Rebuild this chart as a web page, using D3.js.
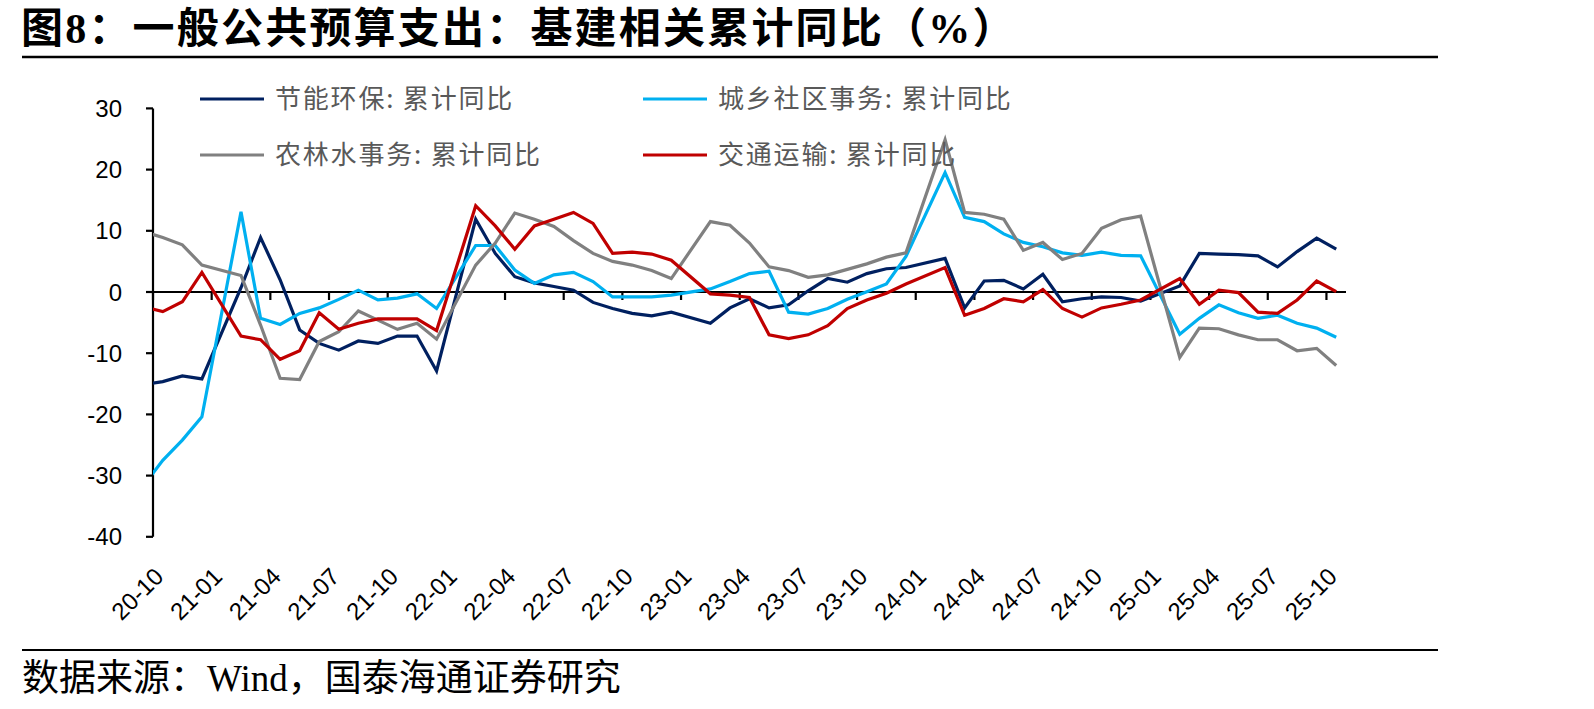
<!DOCTYPE html>
<html>
<head>
<meta charset="utf-8">
<script src="https://cdn.jsdelivr.net/npm/d3@7"></script>
<style>
  html, body { margin: 0; padding: 0; background: #fff; }
  svg { display: block; }
</style>
</head>
<body>
<svg id="chart" width="1594" height="709"></svg>
<script>
// ---- data ----
const months = [
  "2020-09","2020-10","2020-11","2020-12",
  "2021-02","2021-03","2021-04","2021-05","2021-06","2021-07","2021-08","2021-09","2021-10","2021-11","2021-12",
  "2022-02","2022-03","2022-04","2022-05","2022-06","2022-07","2022-08","2022-09","2022-10","2022-11","2022-12",
  "2023-02","2023-03","2023-04","2023-05","2023-06","2023-07","2023-08","2023-09","2023-10","2023-11","2023-12",
  "2024-02","2024-03","2024-04","2024-05","2024-06","2024-07","2024-08","2024-09","2024-10","2024-11","2024-12",
  "2025-02","2025-03","2025-04","2025-05","2025-06","2025-07","2025-08","2025-09","2025-10"
];
const energySaving = [
  -15.15,-14.65,-13.7,-14.2,
  0.7,8.9,2.0,-6.2,-8.4,-9.5,-8.0,-8.4,-7.2,-7.2,-12.9,
  11.9,6.3,2.5,1.5,0.9,0.3,-1.7,-2.7,-3.5,-3.9,-3.3,
  -5.1,-2.6,-1.1,-2.6,-2.1,0.2,2.2,1.6,3.0,3.8,4.0,
  5.5,-2.6,1.8,1.9,0.5,2.9,-1.6,-1.1,-0.8,-0.9,-1.5,
  1.0,6.3,6.2,6.1,5.9,4.1,6.6,8.8,7.0
];
const urbanRural = [
  -31.7,-27.5,-24.2,-20.4,
  13.1,-4.3,-5.3,-3.5,-2.6,-1.2,0.3,-1.3,-1.0,-0.3,-2.7,
  7.6,7.6,3.6,1.4,2.8,3.2,1.7,-0.8,-0.8,-0.8,-0.5,
  0.5,1.7,3.0,3.4,-3.3,-3.6,-2.7,-1.2,0.05,1.3,5.8,
  19.5,12.2,11.5,9.5,8.1,7.4,6.4,6.0,6.5,6.0,5.9,
  -6.9,-4.3,-2.1,-3.4,-4.3,-3.8,-5.1,-5.9,-7.4
];
const agriForestWater = [
  9.9,8.9,7.7,4.4,
  2.7,-5.4,-14.1,-14.3,-8.1,-6.5,-3.1,-4.6,-6.1,-5.1,-7.7,
  4.4,8.0,12.9,11.9,10.7,8.4,6.3,5.0,4.4,3.5,2.2,
  11.5,10.9,8.0,4.1,3.5,2.4,2.8,3.7,4.6,5.7,6.4,
  24.9,13.0,12.7,11.9,6.8,8.1,5.3,6.3,10.4,11.8,12.4,
  -10.7,-5.9,-6.0,-7.0,-7.8,-7.8,-9.6,-9.2,-12.0
];
const transport = [
  -2.4,-3.2,-1.6,3.2,
  -7.2,-7.8,-11.0,-9.6,-3.4,-6.1,-5.1,-4.4,-4.4,-4.4,-6.3,
  14.1,10.8,7.0,10.8,11.9,13.0,11.2,6.3,6.5,6.2,5.2,
  -0.3,-0.5,-0.9,-7.0,-7.6,-7.0,-5.5,-2.7,-1.3,-0.2,1.3,
  4.0,-3.8,-2.7,-1.1,-1.6,0.4,-2.7,-4.1,-2.6,-2.0,-1.3,
  2.2,-2.0,0.3,-0.1,-3.3,-3.5,-1.3,1.8,0.05
];
const seriesNames = ["节能环保: 累计同比","城乡社区事务: 累计同比","农林水事务: 累计同比","交通运输: 累计同比"];
const seriesColors = ["#002060","#00B0F0","#808080","#C00000"];
const xTickLabels = ["20-10","21-01","21-04","21-07","21-10","22-01","22-04","22-07","22-10","23-01","23-04","23-07","23-10","24-01","24-04","24-07","24-10","25-01","25-04","25-07","25-10"];
const yTicks = [30,20,10,0,-10,-20,-30,-40];
const titleText = "图8：一般公共预算支出：基建相关累计同比（%）";
const sourceText = "数据来源：Wind，国泰海通证券研究";

// ---- layout ----
const svg = d3.select("#chart");
svg.append("rect").attr("width",1594).attr("height",709).attr("fill","#fff");

const left = 153, right = 1346;
const monthIndex = s => { const [y,m] = s.split("-").map(Number); return (y-2020)*12 + (m-10); };
const tickIndex = s => { const [yy,mm] = s.split("-").map(Number); return (2000+yy-2020)*12 + (mm-10); };
const x = d3.scaleLinear().domain([0, 61]).range([left, right]);
const y = d3.scaleLinear().domain([-40, 30]).range([292 + 40*6.12, 292 - 30*6.12]);

// title
svg.append("text").attr("x",21).attr("y",43)
  .attr("font-family","'Liberation Serif','Noto Sans CJK SC'")
  .attr("font-weight","bold").attr("font-size",42).attr("letter-spacing",2.2).attr("fill","#000")
  .text(titleText);
svg.append("line").attr("x1",22).attr("x2",1438).attr("y1",57).attr("y2",57)
  .attr("stroke","#000").attr("stroke-width",2.5);

// y axis
const yAxisG = svg.append("g").attr("transform",`translate(${left},0)`);
yAxisG.append("line").attr("x1",0).attr("x2",0).attr("y1",y(30)).attr("y2",y(-40))
  .attr("stroke","#000").attr("stroke-width",2.2);
yTicks.forEach(t => {
  yAxisG.append("line").attr("x1",-7).attr("x2",0).attr("y1",y(t)).attr("y2",y(t))
    .attr("stroke","#000").attr("stroke-width",2.2);
  yAxisG.append("text").attr("x",-31).attr("y",y(t)).attr("dy","0.36em")
    .attr("text-anchor","end").attr("font-family","'Liberation Sans',Arial")
    .attr("font-size",24).attr("fill","#000").text(t);
});

// x axis at zero
const xAxisG = svg.append("g");
xAxisG.append("line").attr("x1",left).attr("x2",right).attr("y1",y(0)).attr("y2",y(0))
  .attr("stroke","#000").attr("stroke-width",2.2);
xTickLabels.forEach(lbl => {
  const xi = x(tickIndex(lbl));
  xAxisG.append("line").attr("x1",xi).attr("x2",xi).attr("y1",y(0)).attr("y2",y(0)+8)
    .attr("stroke","#000").attr("stroke-width",2.2);
  xAxisG.append("text")
    .attr("transform",`translate(${xi+12},${578}) rotate(-45)`)
    .attr("text-anchor","end").attr("font-family","'Liberation Sans',Arial")
    .attr("font-size",24).attr("fill","#000").text(lbl);
});

// clip
svg.append("clipPath").attr("id","plotclip").append("rect")
  .attr("x",left).attr("y",60).attr("width",right-left).attr("height",520);

// lines
const allSeries = [energySaving, urbanRural, agriForestWater, transport];
const line = d3.line().x(d => x(d.i + 0.5)).y(d => y(d.v));
const lineG = svg.append("g").attr("clip-path","url(#plotclip)");
allSeries.forEach((vals, k) => {
  const pts = months.map((m, j) => ({i: monthIndex(m), v: vals[j]}));
  lineG.append("path").datum(pts).attr("d", line)
    .attr("fill","none").attr("stroke",seriesColors[k]).attr("stroke-width",3.2)
    .attr("stroke-linejoin","miter");
});

// legend
const legendPos = [[200,99],[643,99],[200,155],[643,155]];
seriesNames.forEach((n,k) => {
  const [lx,ly] = legendPos[k];
  svg.append("line").attr("x1",lx).attr("x2",lx+64).attr("y1",ly).attr("y2",ly)
    .attr("stroke",seriesColors[k]).attr("stroke-width",3.2);
  svg.append("text").attr("x",lx+75).attr("y",ly).attr("dy","0.36em")
    .attr("font-family","'Noto Sans CJK SC'").attr("font-size",26).attr("letter-spacing",1.8)
    .attr("fill","#595959").text(n);
});

// footer
svg.append("line").attr("x1",22).attr("x2",1438).attr("y1",650).attr("y2",650)
  .attr("stroke","#000").attr("stroke-width",2);
svg.append("text").attr("x",22).attr("y",691)
  .attr("font-family","'Liberation Serif','Noto Sans CJK SC'")
  .attr("font-size",37).attr("fill","#000").text(sourceText);
</script>
</body>
</html>
